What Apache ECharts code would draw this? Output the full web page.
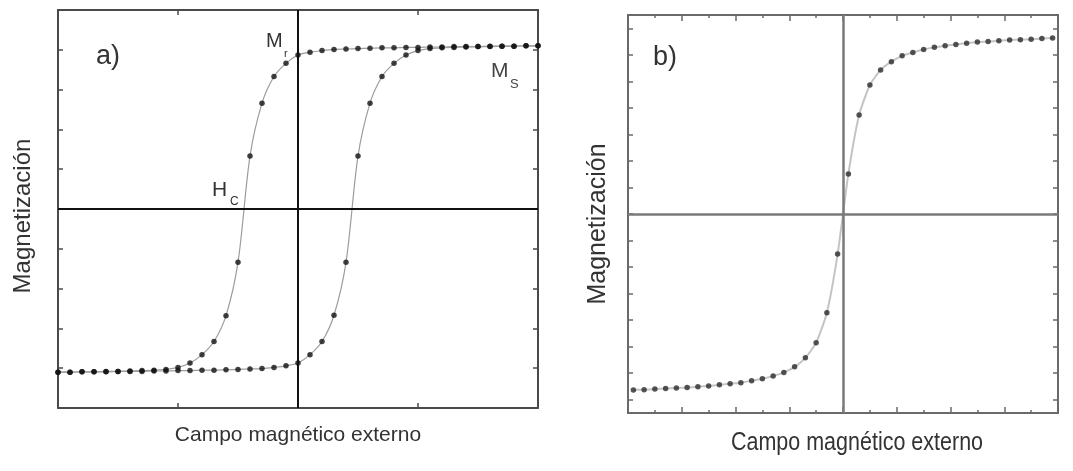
<!DOCTYPE html>
<html>
<head>
<meta charset="utf-8">
<script src="https://cdn.jsdelivr.net/npm/echarts@6/dist/echarts.min.js"></script>
<style>html,body{margin:0;padding:0;background:#fff}#c{width:1073px;height:471px}</style>
</head>
<body>
<div id="c"></div>
<script>
// ---- Panel a) hysteresis loop ----
const fieldA = [-1.00,-0.95,-0.90,-0.85,-0.80,-0.75,-0.70,-0.65,-0.60,-0.55,-0.50,-0.45,-0.40,-0.35,-0.30,-0.25,-0.20,-0.15,-0.10,-0.05,0.00,0.05,0.10,0.15,0.20,0.25,0.30,0.35,0.40,0.45,0.50,0.55,0.60,0.65,0.70,0.75,0.80,0.85,0.90,0.95,1.00];
const branchLeft = [-4.10,-4.10,-4.09,-4.09,-4.08,-4.08,-4.07,-4.06,-4.05,-4.03,-3.98,-3.87,-3.66,-3.33,-2.68,-1.34,1.33,2.66,3.33,3.66,3.87,3.94,3.98,4.01,4.02,4.03,4.04,4.05,4.05,4.06,4.06,4.07,4.07,4.08,4.08,4.08,4.09,4.09,4.09,4.10,4.10];
const branchRight = [-4.10,-4.10,-4.09,-4.09,-4.09,-4.08,-4.08,-4.08,-4.07,-4.07,-4.06,-4.06,-4.05,-4.05,-4.04,-4.03,-4.02,-4.01,-3.98,-3.94,-3.87,-3.66,-3.33,-2.67,-1.34,1.33,2.66,3.33,3.66,3.87,3.98,4.03,4.05,4.06,4.07,4.08,4.08,4.09,4.09,4.10,4.10];

// ---- Panel b) anhysteretic curve ----
const fieldB = [-7.8,-7.4,-7.0,-6.6,-6.2,-5.8,-5.4,-5.0,-4.6,-4.2,-3.8,-3.4,-3.0,-2.6,-2.2,-1.8,-1.4,-1.0,-0.6,-0.2,0.2,0.6,1.0,1.4,1.8,2.2,2.6,3.0,3.4,3.8,4.2,4.6,5.0,5.4,5.8,6.2,6.6,7.0,7.4,7.8];
const magB = [-6.63,-6.62,-6.60,-6.58,-6.56,-6.54,-6.51,-6.48,-6.44,-6.40,-6.36,-6.28,-6.21,-6.11,-5.97,-5.76,-5.42,-4.85,-3.72,-1.51,1.51,3.73,4.86,5.43,5.74,5.96,6.09,6.20,6.28,6.34,6.39,6.44,6.48,6.50,6.53,6.56,6.57,6.59,6.61,6.63];
const bTicksY = [-7,-6,-5,-4,-3,-2,-1,0,1,2,3,4,5,6,7];

// ---- Texts ----
const xTitle = 'Campo magnético externo';
const yTitle = 'Magnetización';

const zip = (xs, ys) => xs.map((x, i) => [x, ys[i]]);
const FONT = '"Liberation Sans", Arial, Helvetica, sans-serif';

function frameAxis(base, extra) {
  return Object.assign({
    type: 'value',
    axisLine: { show: true, onZero: false, lineStyle: { color: base.color, width: 2 } },
    axisTick: { show: true, inside: true, length: base.tick, lineStyle: { color: base.color, width: 1.5 } },
    axisLabel: { show: false },
    splitLine: { show: false }
  }, extra);
}

const colA = { color: '#4a4a4a', tick: 5 };
const colB = { color: '#6a6a6a', tick: 5 };

const chart = echarts.init(document.getElementById('c'), null, { renderer: 'canvas' });

const option = {
  animation: false,
  backgroundColor: '#ffffff',
  grid: [
    { left: 58, top: 10, width: 480, height: 398 },
    { left: 628, top: 15, width: 430, height: 398 }
  ],
  xAxis: [
    frameAxis(colA, { gridIndex: 0, position: 'bottom', min: -1, max: 1, interval: 0.5 }),
    frameAxis(colA, { gridIndex: 0, position: 'top', min: -1, max: 1, interval: 0.5 }),
    frameAxis(colB, { gridIndex: 1, position: 'bottom', min: -8, max: 8, interval: 2,
      axisTick: { show: true, inside: true, length: 6, lineStyle: { color: '#6a6a6a', width: 1.5 } },
      minorTick: { show: true, splitNumber: 2, length: 3, lineStyle: { color: '#6a6a6a', width: 1.5 } } }),
    frameAxis(colB, { gridIndex: 1, position: 'top', min: -8, max: 8, interval: 2,
      axisTick: { show: true, inside: true, length: 6, lineStyle: { color: '#6a6a6a', width: 1.5 } },
      minorTick: { show: true, splitNumber: 2, length: 3, lineStyle: { color: '#6a6a6a', width: 1.5 } } })
  ],
  yAxis: [
    frameAxis(colA, { gridIndex: 0, position: 'left', min: -5, max: 5, interval: 1 }),
    frameAxis(colA, { gridIndex: 0, position: 'right', min: -5, max: 5, interval: 1 }),
    frameAxis(colB, { gridIndex: 1, position: 'left', min: -7.5, max: 7.5,
      axisTick: { show: true, inside: true, length: 5, customValues: bTicksY, lineStyle: { color: '#6a6a6a', width: 1.5 } } }),
    frameAxis(colB, { gridIndex: 1, position: 'right', min: -7.5, max: 7.5,
      axisTick: { show: true, inside: true, length: 5, customValues: bTicksY, lineStyle: { color: '#6a6a6a', width: 1.5 } } })
  ],
  series: [
    {
      type: 'line', xAxisIndex: 0, yAxisIndex: 0, data: zip(fieldA, branchLeft),
      smooth: 0.3, showSymbol: false, z: 2,
      lineStyle: { color: '#9c9c9c', width: 1.2 },
      markLine: {
        silent: true, symbol: ['none', 'none'], label: { show: false },
        lineStyle: { color: '#111', width: 2, type: 'solid' },
        data: [{ xAxis: 0 }, { yAxis: 0 }]
      }
    },
    {
      type: 'line', xAxisIndex: 0, yAxisIndex: 0, data: zip(fieldA, branchRight),
      smooth: 0.3, showSymbol: false, z: 2,
      lineStyle: { color: '#9c9c9c', width: 1.2 }
    },
    {
      type: 'scatter', xAxisIndex: 0, yAxisIndex: 0, data: zip(fieldA, branchLeft),
      symbolSize: 5.5, z: 4, itemStyle: { color: '#111' }
    },
    {
      type: 'scatter', xAxisIndex: 0, yAxisIndex: 0, data: zip(fieldA, branchRight),
      symbolSize: 5.5, z: 4, itemStyle: { color: '#111' }
    },
    {
      type: 'line', xAxisIndex: 2, yAxisIndex: 2, data: zip(fieldB, magB),
      smooth: 0.2, showSymbol: false, z: 2,
      lineStyle: { color: '#c4c4c4', width: 2 },
      markLine: {
        silent: true, symbol: ['none', 'none'], label: { show: false },
        lineStyle: { color: '#7a7a7a', width: 2.5, type: 'solid' },
        data: [{ xAxis: 0 }, { yAxis: 0 }]
      }
    },
    {
      type: 'scatter', xAxisIndex: 2, yAxisIndex: 2, data: zip(fieldB, magB),
      symbolSize: 5.5, z: 4, itemStyle: { color: '#2a2a2a' }
    }
  ],
  graphic: [
    // panel a texts
    { type: 'text', x: 96, y: 57, style: { text: 'a)', font: '27px ' + FONT, fill: '#333', verticalAlign: 'middle' } },
    { type: 'text', x: 266, y: 41, style: { text: 'M', font: '20px ' + FONT, fill: '#333', verticalAlign: 'middle' } },
    { type: 'text', x: 284, y: 54, style: { text: 'r', font: '11px ' + FONT, fill: '#333', verticalAlign: 'middle' } },
    { type: 'text', x: 491, y: 71, style: { text: 'M', font: '21px ' + FONT, fill: '#444', verticalAlign: 'middle' } },
    { type: 'text', x: 510, y: 84, style: { text: 'S', font: '13px ' + FONT, fill: '#444', verticalAlign: 'middle' } },
    { type: 'text', x: 212, y: 190, style: { text: 'H', font: '21px ' + FONT, fill: '#333', verticalAlign: 'middle' } },
    { type: 'text', x: 230, y: 202, style: { text: 'C', font: '12px ' + FONT, fill: '#333', verticalAlign: 'middle' } },
    { type: 'text', x: 298, y: 435, style: { text: xTitle, font: '21px ' + FONT, fill: '#333', align: 'center', verticalAlign: 'middle' } },
    { type: 'text', x: 23, y: 216, rotation: Math.PI / 2, style: { text: yTitle, font: '24px ' + FONT, fill: '#333', align: 'center', verticalAlign: 'middle' } },
    // panel b texts
    { type: 'text', x: 653, y: 58, style: { text: 'b)', font: '27px ' + FONT, fill: '#333', verticalAlign: 'middle' } },
    { type: 'text', x: 857, y: 443, scaleY: 1.2, style: { text: xTitle, font: '21.5px ' + FONT, fill: '#333', align: 'center', verticalAlign: 'middle' } },
    { type: 'text', x: 598, y: 224, rotation: Math.PI / 2, style: { text: yTitle, font: '25px ' + FONT, fill: '#333', align: 'center', verticalAlign: 'middle' } }
  ]
};

chart.setOption(option);
</script>
</body>
</html>
